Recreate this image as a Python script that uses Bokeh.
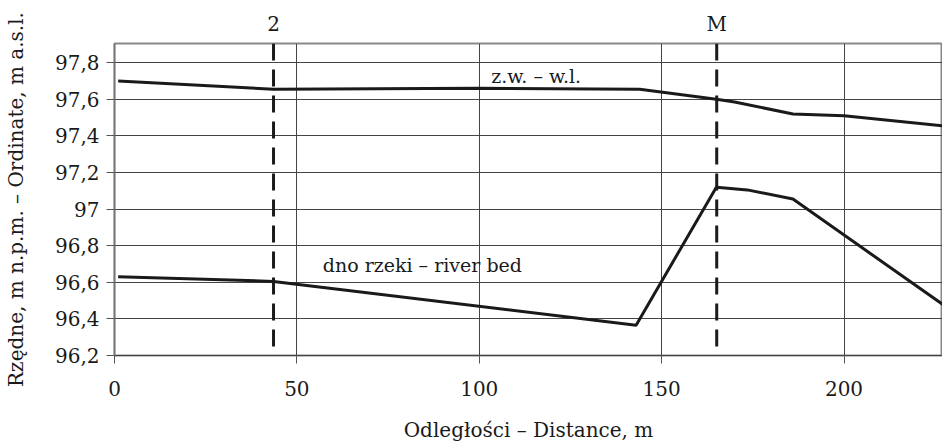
from bokeh.plotting import figure
from bokeh.models import Range1d, FixedTicker, LinearAxis, Span, Label
from bokeh.embed import file_html
from bokeh.resources import INLINE

# --- data ---
water_x = [1, 43.6, 100, 144, 165, 170, 186, 200, 227]
water_y = [97.70, 97.655, 97.66, 97.655, 97.60, 97.585, 97.52, 97.51, 97.455]

bed_x = [1, 43.6, 143, 165, 173.5, 186, 227]
bed_y = [96.63, 96.605, 96.365, 97.12, 97.105, 97.055, 96.48]

section_x = [43.6, 165.1]
section_labels = ["2", "M"]

x_ticks = [0, 50, 100, 150, 200]
x_tick_labels = ["0", "50", "100", "150", "200"]
y_ticks = [96.2, 96.4, 96.6, 96.8, 97.0, 97.2, 97.4, 97.6, 97.8]
y_tick_labels = ["96,2", "96,4", "96,6", "96,8", "97", "97,2", "97,4", "97,6", "97,8"]

water_label = "z.w. – w.l."
water_label_pos = (103.3, 97.666)
bed_label = "dno rzeki – river bed"
bed_label_pos = (57.1, 96.633)

x_title = "Odległości – Distance, m"
y_title = "Rzędne, m n.p.m. – Ordinate, m a.s.l."

FONT = "DejaVu Serif"
FS = "20px"
INK = "#1a1a1a"

p = figure(width=942, height=445, output_backend="svg", toolbar_location=None,
           x_range=Range1d(0, 227), y_range=Range1d(96.2, 97.905),
           min_border_left=113, min_border_right=0, min_border_top=43,
           min_border_bottom=90, background_fill_color="white",
           border_fill_color="white")

p.outline_line_color = "#888888"
p.outline_line_width = 2

# grids
p.xgrid.ticker = FixedTicker(ticks=x_ticks)
p.ygrid.ticker = FixedTicker(ticks=y_ticks)
for g in (p.xgrid, p.ygrid):
    g.grid_line_color = "#444444"
    g.grid_line_width = 1

# axes
xa = p.xaxis[0]
ya = p.yaxis[0]
xa.ticker = FixedTicker(ticks=x_ticks)
ya.ticker = FixedTicker(ticks=y_ticks)
xa.major_label_overrides = {float(t): l for t, l in zip(x_ticks, x_tick_labels)}
ya.major_label_overrides = {float(t): l for t, l in zip(y_ticks, y_tick_labels)}
for ax in (xa, ya):
    ax.major_label_text_font = FONT
    ax.major_label_text_font_size = FS
    ax.major_label_text_color = INK
    ax.axis_label_text_font = FONT
    ax.axis_label_text_font_size = FS
    ax.axis_label_text_font_style = "normal"
    ax.axis_label_text_color = INK
    ax.major_tick_in = 0
    ax.major_tick_out = 8
    ax.minor_tick_line_color = None
    ax.major_tick_line_color = "#555555"
    ax.axis_line_color = "#777777"
    ax.axis_line_width = 1.5
xa.axis_line_color = "#444444"
xa.axis_line_width = 1
xa.axis_label = x_title
ya.axis_label = y_title
xa.major_label_standoff = 17
xa.axis_label_standoff = 19
ya.major_label_standoff = 7
ya.axis_label_standoff = 24

# section labels above
top = LinearAxis(ticker=FixedTicker(ticks=section_x))
top.major_label_overrides = {float(t): l for t, l in zip(section_x, section_labels)}
top.axis_line_color = None
top.major_tick_line_color = None
top.minor_tick_line_color = None
top.major_label_text_font = FONT
top.major_label_text_font_size = FS
top.major_label_text_color = INK
top.major_label_standoff = 2
p.add_layout(top, "above")

for sx in section_x:
    p.add_layout(Span(location=sx, dimension="height", line_color=INK,
                      line_width=3, line_dash="17 9"))

p.line(water_x, water_y, line_color=INK, line_width=3)
p.line(bed_x, bed_y, line_color=INK, line_width=3)

p.add_layout(Label(x=water_label_pos[0], y=water_label_pos[1], text=water_label,
                   text_font=FONT, text_font_size="19px", text_color=INK,
                   text_baseline="bottom"))
p.add_layout(Label(x=bed_label_pos[0], y=bed_label_pos[1], text=bed_label,
                   text_font=FONT, text_font_size="19px", text_color=INK,
                   text_baseline="bottom"))

open("out.html", "w").write(file_html(p, INLINE))
